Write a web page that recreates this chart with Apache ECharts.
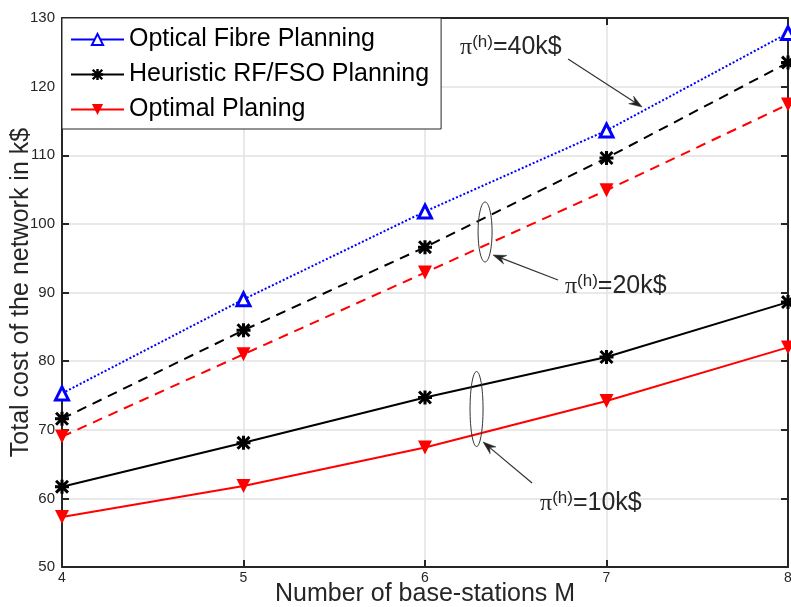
<!DOCTYPE html>
<html>
<head>
<meta charset="utf-8">
<script src="https://cdn.jsdelivr.net/npm/echarts@6/dist/echarts.min.js"></script>
<style>
html,body{margin:0;padding:0;background:#fff;}
#chart{width:791px;height:607px;}
</style>
</head>
<body>
<div id="chart"></div>
<script>
// ---- data ----
const mValues = [4, 5, 6, 7, 8];
const fibre40 = [75.3, 89.0, 101.8, 113.6, 127.8];
const heuristic20 = [71.6, 84.5, 96.6, 109.6, 123.5];
const optimal20 = [69.0, 81.0, 92.9, 104.9, 117.4];
const heuristic10 = [61.7, 68.1, 74.7, 80.6, 88.6];
const optimal10 = [57.3, 61.8, 67.4, 74.2, 82.0];
const seriesNames = ['Optical Fibre Planning', 'Heuristic RF/FSO Planning', 'Optimal Planing'];
const xTicks = [4, 5, 6, 7, 8];
const yTicks = [50, 60, 70, 80, 90, 100, 110, 120, 130];
const xTitle = 'Number of base-stations M';
const yTitle = 'Total cost of the network in k$';
const annotationLabels = ['40k$', '20k$', '10k$'];

// ---- styles ----
const AX = '#262626';
const asterisk = 'path://M7.8 0 L12.2 0 L12.2 20 L7.8 20 Z M0 7.8 L20 7.8 L20 12.2 L0 12.2 Z M0 3 L3 0 L20 17 L17 20 Z M17 0 L20 3 L3 20 L0 17 Z';
const downTri = 'path://M0 0 L20 0 L10 18 Z';

function pairs(ys) { return mValues.map((m, i) => [m, ys[i]]); }

const chart = echarts.init(document.getElementById('chart'), null, {renderer: 'canvas'});

function lineSeries(name, ys, color, type, symbol, size, filled) {
  return {
    name: name, type: 'line', data: pairs(ys),
    symbol: symbol, symbolSize: size, showSymbol: true,
    lineStyle: {color: color, width: 2, type: type},
    itemStyle: filled ? {color: color} : {color: '#fff', borderColor: color, borderWidth: 3},
    emphasis: {disabled: true}, animation: false, clip: false, z: 3
  };
}

const axisCommon = {
  axisLine: {show: true, onZero: false, lineStyle: {color: AX, width: 2}},
  axisTick: {show: true, inside: true, length: 7, lineStyle: {color: AX, width: 2}}
};

chart.setOption({
  animation: false,
  backgroundColor: '#fff',
  grid: {left: 62, right: 3, top: 18, bottom: 40, containLabel: false, outerBoundsMode: 'none'},
  legend: {
    data: seriesNames,
    orient: 'vertical', left: 62, top: 18,
    backgroundColor: '#fff', borderColor: AX, borderWidth: 1,
    padding: [9, 12, 7, 8],
    itemWidth: 53, itemHeight: 14, itemGap: 10,
    lineStyle: {type: 'solid', width: 2},
    textStyle: {fontFamily: 'Liberation Sans', fontSize: 25, color: '#000', padding: [0, 0, 0, 0]},
    selectedMode: false
  },
  xAxis: [
    Object.assign({
      type: 'value', min: 4, max: 8, interval: 1, position: 'bottom',
      name: xTitle, nameLocation: 'middle', nameGap: 15, nameMoveOverlap: false,
      nameTextStyle: {fontFamily: 'Liberation Sans', fontSize: 25, color: AX},
      axisLabel: {fontFamily: 'Liberation Sans', fontSize: 14, color: AX, margin: 4,
        formatter: v => (xTicks.indexOf(v) >= 0 ? String(v) : '')},
      splitLine: {show: true, lineStyle: {color: '#e2e2e2', width: 1.5}}
    }, axisCommon),
    Object.assign({
      type: 'value', min: 4, max: 8, interval: 1, position: 'top',
      axisLabel: {show: false}, splitLine: {show: false}
    }, axisCommon)
  ],
  yAxis: [
    Object.assign({
      type: 'value', min: 50, max: 130, interval: 10, position: 'left',
      name: yTitle, nameLocation: 'middle', nameGap: 28, nameRotate: 90, nameMoveOverlap: false,
      nameTextStyle: {fontFamily: 'Liberation Sans', fontSize: 25, color: AX},
      axisLabel: {fontFamily: 'Liberation Sans', fontSize: 15, color: AX, margin: 7,
        formatter: v => (yTicks.indexOf(v) >= 0 ? String(v) : '')},
      splitLine: {show: true, lineStyle: {color: '#e2e2e2', width: 1.5}}
    }, axisCommon),
    Object.assign({
      type: 'value', min: 50, max: 130, interval: 10, position: 'right',
      axisLabel: {show: false}, splitLine: {show: false}
    }, axisCommon)
  ],
  series: [
    lineSeries(seriesNames[1], heuristic10, '#000000', 'solid', asterisk, 14, true),
    lineSeries(seriesNames[2], optimal10, '#ff0000', 'solid', downTri, 14, true),
    lineSeries(seriesNames[0], fibre40, '#0000ff', [2, 2], 'triangle', 13, false),
    lineSeries(seriesNames[1], heuristic20, '#000000', [10, 7], asterisk, 14, true),
    lineSeries(seriesNames[2], optimal20, '#ff0000', [10, 7], downTri, 14, true)
  ]
});

// ---- annotations (anchored in data coordinates) ----
const ellipses = [
  {c: [6.331, 98.82], rx: 7, ry: 30},
  {c: [6.284, 73.02], rx: 6.5, ry: 37.5}
];
const arrows = [
  {from: [6.788, 124.03], to: [7.196, 117.03]},
  {from: [6.733, 91.82], to: [6.375, 95.46]},
  {from: [6.590, 62.24], to: [6.320, 68.21]}
];
const labels = [
  {at: [6.193, 125.77], text: annotationLabels[0]},
  {at: [6.771, 90.95], text: annotationLabels[1]},
  {at: [6.634, 59.33], text: annotationLabels[2]}
];

function px(p) { return chart.convertToPixel({xAxisIndex: 0, yAxisIndex: 0}, p); }

const graphics = [];
ellipses.forEach(e => {
  const c = px(e.c);
  graphics.push({type: 'ellipse', z: 10, silent: true,
    shape: {cx: c[0], cy: c[1], rx: e.rx, ry: e.ry},
    style: {fill: null, stroke: '#333', lineWidth: 1}});
});
arrows.forEach(a => {
  const s = px(a.from), t = px(a.to);
  const dx = t[0] - s[0], dy = t[1] - s[1];
  const len = Math.sqrt(dx * dx + dy * dy);
  const ux = dx / len, uy = dy / len, nx = -uy, ny = ux;
  const L = 13, W = 4.5;
  graphics.push({type: 'line', z: 10, silent: true,
    shape: {x1: s[0], y1: s[1], x2: t[0] - ux * 6, y2: t[1] - uy * 6},
    style: {stroke: '#333', lineWidth: 1.2}});
  graphics.push({type: 'polygon', z: 10, silent: true,
    shape: {points: [
      [t[0], t[1]],
      [t[0] - L * ux + W * nx, t[1] - L * uy + W * ny],
      [t[0] - 0.65 * L * ux, t[1] - 0.65 * L * uy],
      [t[0] - L * ux - W * nx, t[1] - L * uy - W * ny]
    ]},
    style: {fill: '#222', stroke: '#222', lineWidth: 0.5}});
});
labels.forEach(l => {
  const p = px(l.at);
  graphics.push({type: 'text', z: 10, silent: true, x: p[0], y: p[1],
    style: {
      text: '{pi|\u03C0}{sup|(h)}{n|=' + l.text + '}',
      align: 'left', verticalAlign: 'middle',
      rich: {
        pi: {fontFamily: 'Liberation Serif', fontSize: 24, lineHeight: 26, verticalAlign: 'bottom', fill: AX},
        sup: {fontFamily: 'Liberation Sans', fontSize: 17, lineHeight: 14, verticalAlign: 'top', fill: AX},
        n: {fontFamily: 'Liberation Sans', fontSize: 25, lineHeight: 26, verticalAlign: 'bottom', fill: AX}
      }
    }});
});
chart.setOption({graphic: graphics});
</script>
</body>
</html>
